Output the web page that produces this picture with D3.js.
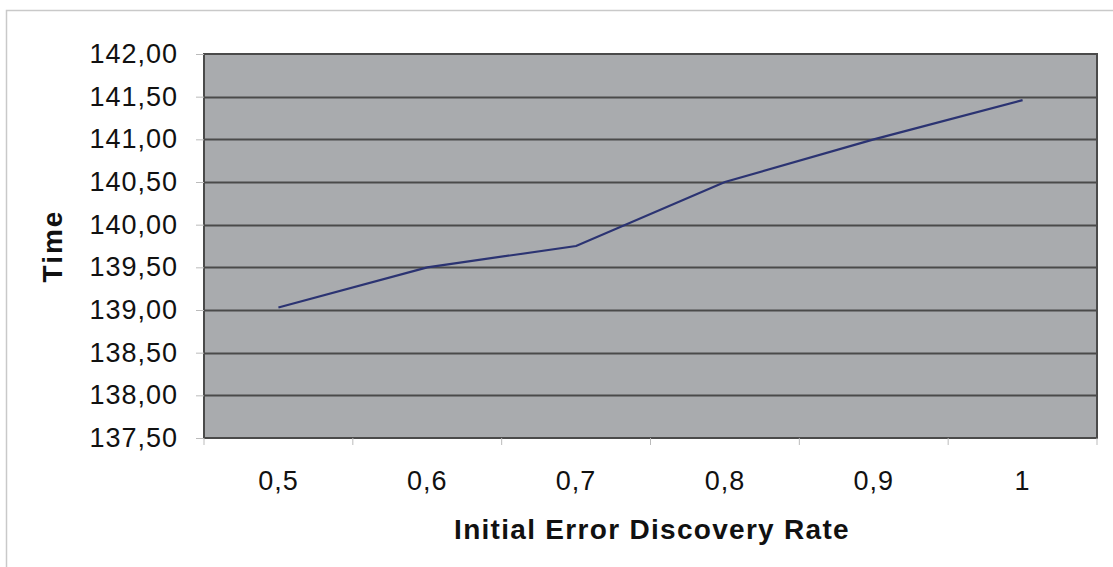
<!DOCTYPE html>
<html>
<head>
<meta charset="utf-8">
<script src="https://cdn.jsdelivr.net/npm/d3@7"></script>
<style>
  html, body { margin: 0; padding: 0; background: #fff; }
  svg { display: block; }
</style>
</head>
<body>
<svg id="chart" width="1113" height="567"></svg>
<script>
"use strict";

// Initial error discovery rate (categories) and simulated time
const rates  = ["0,5", "0,6", "0,7", "0,8", "0,9", "1"];
const times  = [139.03, 139.50, 139.75, 140.50, 141.00, 141.46];
const yTicks = [137.5, 138, 138.5, 139, 139.5, 140, 140.5, 141, 141.5, 142];

const W = 1113, H = 567;
const plot = { left: 204, top: 54, right: 1097, bottom: 438 };
const FONT = "Liberation Sans, Arial, sans-serif";

const svg = d3.select("#chart");

/* outer chart frame (only top and left edges are in view) */
svg.append("rect")
  .attr("x", 6.5).attr("y", 10.5)
  .attr("width", W + 20).attr("height", H + 20)
  .attr("fill", "#fff")
  .attr("stroke", "#c9c9c9")
  .attr("stroke-width", 1.5);

const x = d3.scaleBand().domain(rates).range([plot.left, plot.right]);
const y = d3.scaleLinear().domain([137.5, 142]).range([plot.bottom, plot.top]);

const fmt = function (d) { return d.toFixed(2).replace(".", ","); };

/* plot area */
svg.append("rect")
  .attr("x", plot.left).attr("y", plot.top)
  .attr("width", plot.right - plot.left).attr("height", plot.bottom - plot.top)
  .attr("fill", "#a9abae");

/* gridlines */
svg.append("g")
  .selectAll("line")
  .data(yTicks.slice(1, -1))
  .join("line")
  .attr("x1", plot.left).attr("x2", plot.right)
  .attr("y1", function (d) { return Math.round(y(d)) + 0.5; })
  .attr("y2", function (d) { return Math.round(y(d)) + 0.5; })
  .attr("stroke", "#4a4a4a")
  .attr("stroke-width", 2);

/* plot border */
svg.append("rect")
  .attr("x", plot.left).attr("y", plot.top)
  .attr("width", plot.right - plot.left).attr("height", plot.bottom - plot.top)
  .attr("fill", "none")
  .attr("stroke", "#4a4a4a")
  .attr("stroke-width", 2);

/* y axis */
const yAxis = svg.append("g")
  .attr("transform", "translate(" + plot.left + ",0)")
  .call(d3.axisLeft(y).tickValues(yTicks).tickFormat(fmt).tickSize(8).tickPadding(18));
yAxis.select(".domain").remove();
yAxis.selectAll(".tick line").attr("stroke", "#bbb");
yAxis.selectAll("text")
  .attr("font-family", FONT)
  .attr("font-size", 27)
  .attr("letter-spacing", 1)
  .attr("fill", "#111");

/* x axis: ticks on band edges, labels on band centres */
const edges = rates.map(function (r) { return x(r); }).concat([plot.right]);
svg.append("g")
  .selectAll("line")
  .data(edges)
  .join("line")
  .attr("x1", function (d) { return d; }).attr("x2", function (d) { return d; })
  .attr("y1", plot.bottom).attr("y2", plot.bottom + 7)
  .attr("stroke", "#bbb");

svg.append("g")
  .selectAll("text")
  .data(rates)
  .join("text")
  .attr("x", function (d) { return x(d) + x.bandwidth() / 2; })
  .attr("y", 490)
  .attr("text-anchor", "middle")
  .attr("font-family", FONT)
  .attr("font-size", 27)
  .attr("letter-spacing", 1)
  .attr("fill", "#111")
  .text(function (d) { return d; });

/* series line */
const line = d3.line()
  .x(function (d, i) { return x(rates[i]) + x.bandwidth() / 2; })
  .y(function (d) { return y(d); });

svg.append("path")
  .datum(times)
  .attr("d", line)
  .attr("fill", "none")
  .attr("stroke", "#2b3372")
  .attr("stroke-width", 2.2);

/* axis titles */
svg.append("text")
  .attr("x", 652)
  .attr("y", 539)
  .attr("text-anchor", "middle")
  .attr("font-family", FONT)
  .attr("font-weight", "bold")
  .attr("font-size", 28)
  .attr("letter-spacing", 1.3)
  .attr("fill", "#111")
  .text("Initial Error Discovery Rate");

svg.append("text")
  .attr("transform", "translate(62,246) rotate(-90)")
  .attr("text-anchor", "middle")
  .attr("font-family", FONT)
  .attr("font-weight", "bold")
  .attr("font-size", 28)
  .attr("letter-spacing", 2)
  .attr("fill", "#111")
  .text("Time");
</script>
</body>
</html>
